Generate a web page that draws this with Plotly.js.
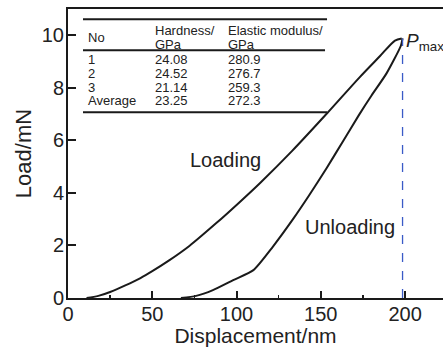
<!DOCTYPE html>
<html>
<head>
<meta charset="utf-8">
<script src="https://cdn.plot.ly/plotly-3.0.1.min.js"></script>
<style>
html,body{margin:0;padding:0;background:#fff;}
#chart{width:443px;height:347px;}
</style>
</head>
<body>
<div id="chart"></div>
<script>
// Loading curve (displacement nm, load mN)
const loadX = [11, 18, 25, 34, 43, 50, 60, 72, 88, 101, 114, 133, 154, 173, 185, 194, 198];
const loadY = [0.0, 0.08, 0.23, 0.48, 0.76, 1.02, 1.43, 1.98, 2.85, 3.6, 4.38, 5.6, 7.05, 8.4, 9.2, 9.8, 9.88];
// Unloading curve
const unloadX = [198.5, 197.5, 189, 180, 172.5, 163, 153.5, 143, 133.5, 121.5, 110, 98, 86, 76, 67];
const unloadY = [9.88, 9.6, 8.55, 7.7, 6.95, 5.95, 4.95, 3.9, 3.0, 1.95, 1.06, 0.68, 0.3, 0.08, 0.0];

// Inset table
const headerLine1 = ["No", "Hardness/", "Elastic modulus/"];
const headerLine2 = ["", "GPa", "GPa"];
const tableNo = ["1", "2", "3", "Average"];
const hardness = ["24.08", "24.52", "21.14", "23.25"];
const modulus = ["280.9", "276.7", "259.3", "272.3"];

const xTickVals = [0, 50, 100, 150, 200];
const yTickVals = [0, 2, 4, 6, 8, 10];

const FONT = "Liberation Sans, Arial, sans-serif";
const INK = "#1a1a1a";

const traces = [
  {x: loadX, y: loadY, mode: "lines", line: {color: INK, width: 2, shape: "spline", smoothing: 0.8}, hoverinfo: "skip"},
  {x: unloadX, y: unloadY, mode: "lines", line: {color: INK, width: 2, shape: "spline", smoothing: 0.6}, hoverinfo: "skip"}
];

// table layout positions (data coords)
const colX = [11.5, 51.3, 94.5];
const rowY = [9.09, 8.56, 8.03, 7.52];
const headY1 = 10.2, headY2 = 9.66, headYNo = 9.92;
const annotations = [];
const tfont = {family: FONT, size: 13, color: "#222"};
function addText(x, y, t) {
  annotations.push({x: x, y: y, xref: "x", yref: "y", text: t, showarrow: false,
    xanchor: "left", yanchor: "middle", align: "left", font: tfont, borderpad: 0});
}
headerLine1.forEach((t, i) => {
  if (headerLine2[i] === "") addText(colX[i], headYNo, t);
  else { addText(colX[i], headY1, t); addText(colX[i], headY2, headerLine2[i]); }
});
tableNo.forEach((t, i) => {
  [t, hardness[i], modulus[i]].forEach((v, j) => addText(colX[j], rowY[i], v));
});
annotations.push({x: 93.2, y: 5.25, xref: "x", yref: "y", text: "Loading", showarrow: false,
  xanchor: "center", yanchor: "middle", font: {family: FONT, size: 20, color: "#222"}});
annotations.push({x: 167.4, y: 2.7, xref: "x", yref: "y", text: "Unloading", showarrow: false,
  xanchor: "center", yanchor: "middle", font: {family: FONT, size: 20, color: "#222"}});
annotations.push({x: 199.5, y: 9.75, xref: "x", yref: "y", text: "<i>P</i><sub>max</sub>", showarrow: false,
  xanchor: "left", yanchor: "middle", font: {family: FONT, size: 19, color: "#222"}});

const pmaxX = unloadX[0];
const pmaxY = unloadY[0];
const shapes = [
  {type: "line", xref: "x", yref: "y", x0: 8.9, x1: 153.7, y0: 10.61, y1: 10.61, line: {color: INK, width: 2.2}},
  {type: "line", xref: "x", yref: "y", x0: 8.9, x1: 152.5, y0: 9.43, y1: 9.43, line: {color: INK, width: 2}},
  {type: "line", xref: "x", yref: "y", x0: 8.9, x1: 153.7, y0: 7.07, y1: 7.07, line: {color: INK, width: 2}},
  {type: "line", xref: "x", yref: "y", x0: pmaxX, x1: pmaxX, y0: 0, y1: pmaxY, line: {color: "#3a5bc7", width: 1.3, dash: "dash"}}
];

const layout = {
  width: 443, height: 347,
  margin: {l: 68, r: 0, t: 9, b: 49, pad: 0},
  paper_bgcolor: "#fff", plot_bgcolor: "#fff",
  showlegend: false,
  font: {family: FONT, color: "#222"},
  xaxis: {
    range: [0, 222.5], tickvals: xTickVals, ticks: "inside", ticklen: 7, tickwidth: 2, tickcolor: INK,
    showline: true, linewidth: 2, linecolor: INK, mirror: true, showgrid: false, zeroline: false,
    tickfont: {family: FONT, size: 20, color: "#222"}, ticklabelstandoff: -3,
    minor: {ticks: "inside", dtick: 25, tick0: 0, ticklen: 3, tickwidth: 1.5, tickcolor: INK, showgrid: false},
    title: {text: "Displacement/nm", font: {family: FONT, size: 21, color: "#222"}, standoff: 0}
  },
  yaxis: {
    range: [0, 11], tickvals: yTickVals, ticks: "inside", ticklen: 8, tickwidth: 2, tickcolor: INK,
    showline: true, linewidth: 2, linecolor: INK, showgrid: false, zeroline: false,
    tickfont: {family: FONT, size: 20, color: "#222"}, ticklabelstandoff: -2,
    title: {text: "Load/mN", font: {family: FONT, size: 22, color: "#222"}, standoff: 4}
  },
  shapes: shapes,
  annotations: annotations
};

Plotly.newPlot("chart", traces, layout, {displayModeBar: false, staticPlot: true});
</script>
</body>
</html>
